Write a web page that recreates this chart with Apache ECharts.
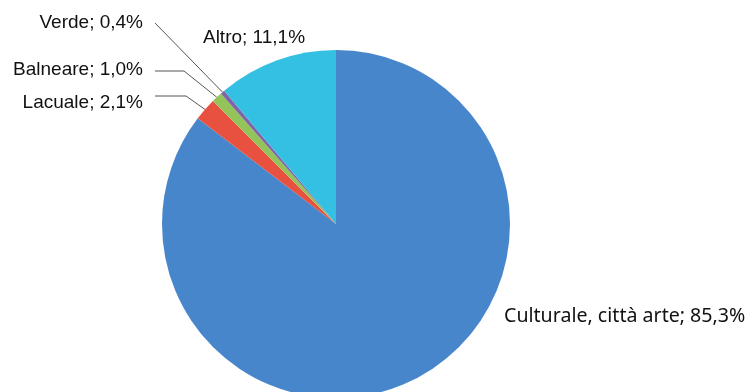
<!DOCTYPE html>
<html>
<head>
<meta charset="utf-8">
<script src="https://cdn.jsdelivr.net/npm/echarts@6/dist/echarts.min.js"></script>
<style>
  html, body { margin: 0; padding: 0; background: #fff; }
  #chart { width: 749px; height: 392px; }
</style>
</head>
<body>
<div id="chart"></div>
<script>
// dati
var categorie = ['Culturale, città arte', 'Lacuale', 'Balneare', 'Verde', 'Altro'];
var valori = [85.3, 2.1, 1.0, 0.4, 11.1];
var colori = ['#4886cc', '#e8503f', '#93c45a', '#8064a8', '#33c0e2'];

// posizione delle etichette (a sinistra: con linea)
var etichette = {
    'Verde':    {x: 143, y: 23, lineY: 23, elbow: null},
    'Balneare': {x: 143, y: 70, lineY: 71, elbow: 184},
    'Lacuale':  {x: 143, y: 103, lineY: 96, elbow: 186},
    'Altro':    {x: 254, y: 38},
    'Culturale, città arte': {x: 504, y: 316}
};

var fmt = function (v) {
    return v.toFixed(1).replace('.', ',') + '%';
};

var chart = echarts.init(document.getElementById('chart'));

var dati = categorie.map(function (nome, i) {
    var item = {
        name: nome,
        value: valori[i],
        itemStyle: {color: colori[i]}
    };
    if (i === 0) {
        item.label = {fontFamily: 'Noto Sans', fontSize: 19.6};
    }
    return item;
});

var option = {
    animation: false,
    series: [{
        type: 'pie',
        center: [336, 224],
        radius: 174,
        startAngle: 90,
        clockwise: true,
        data: dati,
        label: {
            show: true,
            position: 'outside',
            color: '#111',
            fontFamily: 'Liberation Sans, Arial',
            fontSize: 19,
            formatter: function (p) {
                return p.name + '; ' + fmt(p.value);
            }
        },
        labelLine: {
            show: true,
            lineStyle: {color: '#555', width: 1}
        },
        labelLayout: function (params) {
            var nome = categorie[params.dataIndex];
            var e = etichette[nome];
            var res = {x: e.x, y: e.y, verticalAlign: 'middle'};
            if (nome === 'Altro') {
                res.align = 'center';
                res.labelLinePoints = [[0, 0], [0, 0], [0, 0]];
            } else if (nome === 'Culturale, città arte') {
                res.align = 'left';
                res.labelLinePoints = [[0, 0], [0, 0], [0, 0]];
            } else {
                res.align = 'right';
                var fine = params.labelLinePoints[0];
                var start = [e.x + 12, e.lineY];
                var gomito = e.elbow ? [e.elbow, e.lineY] : start;
                res.labelLinePoints = [start, gomito, fine];
            }
            return res;
        }
    }]
};

chart.setOption(option);
</script>
</body>
</html>
